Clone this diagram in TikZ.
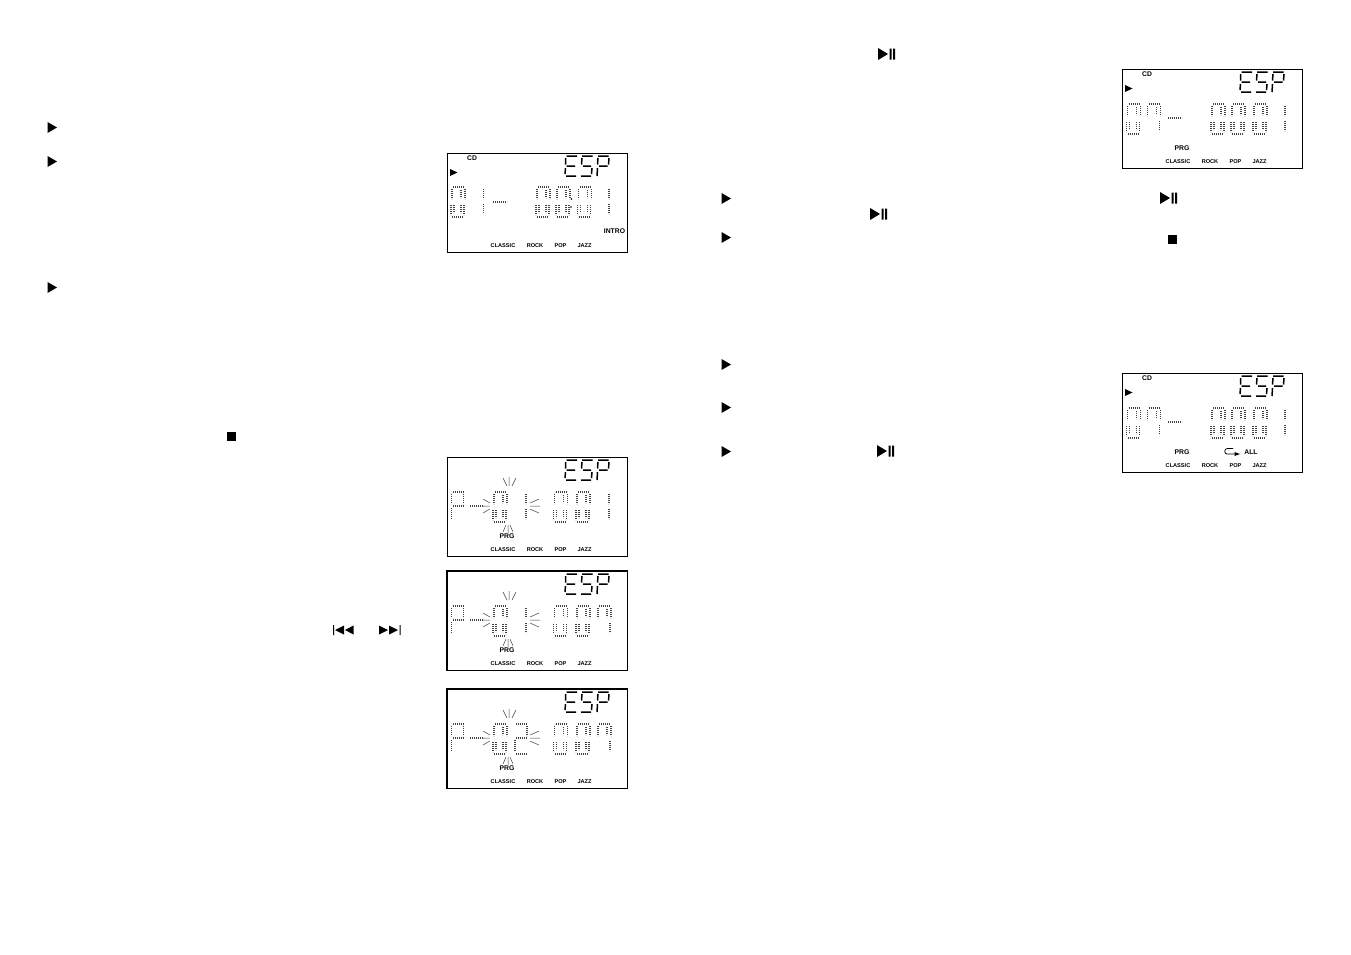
\documentclass[tikz,border=0pt]{standalone}
\usepackage{fontspec}
\setmainfont{Liberation Sans}
\tikzset{
 seg/.style={line width=1.5pt,black},
 dots/.style={line width=1.2pt,black!75,dash pattern=on 1.1pt off 0.9pt},
 ray/.style={line width=0.5pt,black!75},
 lab/.style={inner sep=0pt,font=\bfseries\fontsize{5.6}{6}\selectfont},
 big/.style={inner sep=0pt,font=\bfseries\fontsize{6.8}{7}\selectfont},
 glyphm/.style={fill=black,draw=none}
}
% dotted ghost digit, (#1,#2) = left end of the top bar
\newcommand\dgU[2]{\draw[dots] (#1+1,#2) -- ++(11,0) (#1,#2+2) -- ++(0,10) (#1+9,#2+3) -- ++(0,8) (#1+13,#2+2) -- ++(0,10);}
\newcommand\dgL[2]{\draw[dots] (#1-1,#2+18) -- ++(0,10) (#1+2,#2+18) -- ++(0,8) (#1+9,#2+18) -- ++(0,8) (#1+12,#2+18) -- ++(0,10) (#1,#2+30) -- ++(11,0);}
\newcommand\dgz[2]{\dgU{#1}{#2}\dgL{#1}{#2}}
\newcommand\dgone[2]{\draw[dots] (#1,#2+2) -- ++(0,10) (#1,#2+17) -- ++(0,10);}
\newcommand\dgsev[2]{\dgU{#1}{#2}\draw[dots] (#1+12,#2+17) -- ++(0,10);}
\newcommand\dgP[2]{\draw[dots] (#1+1,#2) -- ++(11,0) (#1,#2+2) -- ++(0,10) (#1+12,#2+2) -- ++(0,10) (#1+1,#2+14) -- ++(11,0) (#1,#2+16) -- ++(0,11);}
\newcommand\dgtwo[2]{\draw[dots] (#1+1,#2) -- ++(11,0) (#1+12,#2+2) -- ++(0,10) (#1+1,#2+14) -- ++(11,0) (#1,#2+16) -- ++(0,11) (#1+1,#2+30) -- ++(11,0);}
% LCD frame and ESP; #1,#2 = top-left, #3 = frame width, #4 = bottom width
\newcommand\lcdbox[4]{
 \draw[line width=#3,black] (#1,#2) rectangle ++(180.5,99.5);
 \draw[line width=#4,black] (#1,#2+99.5) -- ++(180.5,0);
 \begin{scope}[shift={(#1,#2)},seg]
  \draw (119.5,3) -- (130,3) (118.5,5) -- (118.5,11.5) (119.5,13) -- (128,13) (118.5,15) -- (118,21) (119,23) -- (129,23);
  \draw (135,3) -- (145.5,3) (135,5) -- (134.5,11.5) (136,13) -- (144,13) (145,15) -- (144.5,21) (134,23) -- (144,23);
  \draw (151,3) -- (161.5,3) (151,5) -- (150.5,11.5) (162,5) -- (161.5,11.5) (152,13) -- (160.5,13) (150.5,15) -- (150,23);
 \end{scope}
}
\newcommand\genres[2]{
 \node[lab] (cl#1#2) at (#1+56,#2+92.5) {CLASSIC};
 \node[lab] (ro#1#2) at (#1+88,#2+92.5) {ROCK};
 \node[lab] (po#1#2) at (#1+113.5,#2+92.5) {POP};
 \node[lab] (ja#1#2) at (#1+137.5,#2+92.5) {JAZZ};
}
\newcommand\cdplay[2]{
 \node[big] (cd#1#2) at (#1+25,#2+5) {CD};
 \fill[glyphm] (#1+3,#2+16) -- (#1+10.5,#2+19.5) -- (#1+3,#2+23) -- cycle;
}
% blink rays: #1 centre x, #2 = y of the digit's top bar
\newcommand\rays[2]{
 \draw[ray] (#1-6,#2-14) -- (#1-2,#2-6) (#1,#2-15) -- (#1,#2-6) (#1+7,#2-14) -- (#1+3,#2-6);
 \draw[ray] (#1-6,#2+40) -- (#1-3,#2+33) (#1-1,#2+41) -- (#1-1,#2+33) (#1+4,#2+40) -- (#1+1,#2+33);
}
\newcommand\sidel[2]{\draw[ray] (#1,#2+7) -- (#1+7,#2+11) (#1+7,#2+14) -- (#1-1,#2+14) (#1,#2+21) -- (#1+7,#2+17);}
\newcommand\sider[2]{\draw[ray] (#1+9,#2+7) -- (#1,#2+11) (#1+10,#2+14) -- (#1,#2+14) (#1+9,#2+21) -- (#1,#2+17);}
\newcommand\dashbar[2]{\draw[dots] (#1,#2) -- ++(14,0);}
\newcommand\tri[2]{\fill[glyphm] (#1-4.5,#2-5.5) -- (#1+5,#2) -- (#1-4.5,#2+5.5) -- cycle;}
\newcommand\stopm[2]{\fill[glyphm] (#1-4.5,#2-4.5) rectangle (#1+4.5,#2+4.5);}
\newcommand\playpause[2]{\fill[glyphm] (#1-7,#2-6) -- (#1+3,#2) -- (#1-7,#2+6) -- cycle (#1+4.5,#2-5.5) rectangle ++(2,11) (#1+8,#2-5.5) rectangle ++(2,11);}
\begin{document}
\begin{tikzpicture}[x=1pt,y=-1pt]
\useasboundingbox[fill=white] (0,0) rectangle (1351,954);
% markers in the text columns
\tri{52}{127.5}\tri{52}{161.5}\tri{52}{287.5}
\tri{726}{198.5}\tri{726}{237.5}\tri{726}{364.5}\tri{726}{407.5}\tri{726}{451.5}
\stopm{231.5}{436}\stopm{1172}{239}
\playpause{885}{54}\playpause{877}{214}\playpause{1167}{198}\playpause{884}{451}
% previous / next
\fill[glyphm] (333,625) rectangle ++(1,10) (344,625.5) -- (335,630) -- (344,634.5) -- cycle (353.5,625.5) -- (345,630) -- (353.5,634.5) -- cycle;
\fill[glyphm] (379,625.5) -- (388,630) -- (379,634.5) -- cycle (389,625.5) -- (398,630) -- (389,634.5) -- cycle (399.5,625) rectangle ++(1,10);
% display 1
\lcdbox{447}{153}{0.8pt}{0.8pt}
\cdplay{447}{153}\genres{447}{153}
\dgz{452}{187}\dgone{483.5}{187}\dashbar{493}{202}
\dgz{537}{187}\dgz{557}{187}\dgz{578.5}{187}\dgone{609}{187}
\fill (571.5,199) circle (0.8) (571,207) circle (0.8);
\node[big] (intro) at (614.5,231.5) {INTRO};
% display 2
\lcdbox{447}{457}{0.8pt}{0.8pt}
\genres{447}{457}
\dgP{451.5}{492}\dashbar{470}{506}\dgz{494}{492}\dgone{526}{492}\dgz{554.5}{492}\dgz{577}{492}\dgone{609}{492}
\rays{509}{492}\sidel{483}{492}\sider{530}{492}
\node[big] (prg2) at (507,536) {PRG};
% display 3
\lcdbox{447}{571}{1.3pt}{1.5pt}
\genres{447}{571.5}
\dgP{451.5}{606}\dashbar{470}{620}\dgz{494}{606}\dgone{526}{606}\dgz{554.5}{606}\dgz{577}{606}
\dgsev{598}{606}
\rays{509}{606}\sidel{483}{606}\sider{530}{606}
\node[big] (prg3) at (507,650) {PRG};
% display 4
\lcdbox{447}{689}{1.3pt}{1.5pt}
\genres{447}{689.5}
\dgP{451.5}{724}\dashbar{470}{738}\dgz{494}{724}\dgtwo{515}{724}\dgz{554.5}{724}\dgz{577}{724}
\dgsev{598}{724}
\rays{509}{724}\sidel{483}{724}\sider{530}{724}
\node[big] (prg4) at (507,768) {PRG};
% display 5
\lcdbox{1122}{69}{0.7pt}{1.6pt}
\cdplay{1122}{69}\genres{1122}{69}
\dgz{1127.5}{104}\dgsev{1147.5}{104}\dashbar{1168}{118}
\dgz{1212}{104}\dgz{1232}{104}\dgz{1254}{104}\dgone{1285}{104}
\node[big] (prg5) at (1182,148) {PRG};
% display 6
\lcdbox{1122}{373}{0.8pt}{0.8pt}
\cdplay{1122}{373}\genres{1122}{373}
\dgz{1127.5}{408}\dgsev{1147.5}{408}\dashbar{1168}{422}
\dgz{1212}{408}\dgz{1232}{408}\dgz{1254}{408}\dgone{1285}{408}
\node[big] (prg6) at (1182,452) {PRG};
\node[big] (all) at (1251,452) {ALL};
\draw[line width=0.7pt] (1233,448.5) -- (1227,448.5) .. controls (1224,448.5) and (1224,454) .. (1227,454) -- (1236,454);
\fill[glyphm] (1234.5,452) -- (1240,454) -- (1234.5,456) -- cycle;
\end{tikzpicture}
\end{document}
